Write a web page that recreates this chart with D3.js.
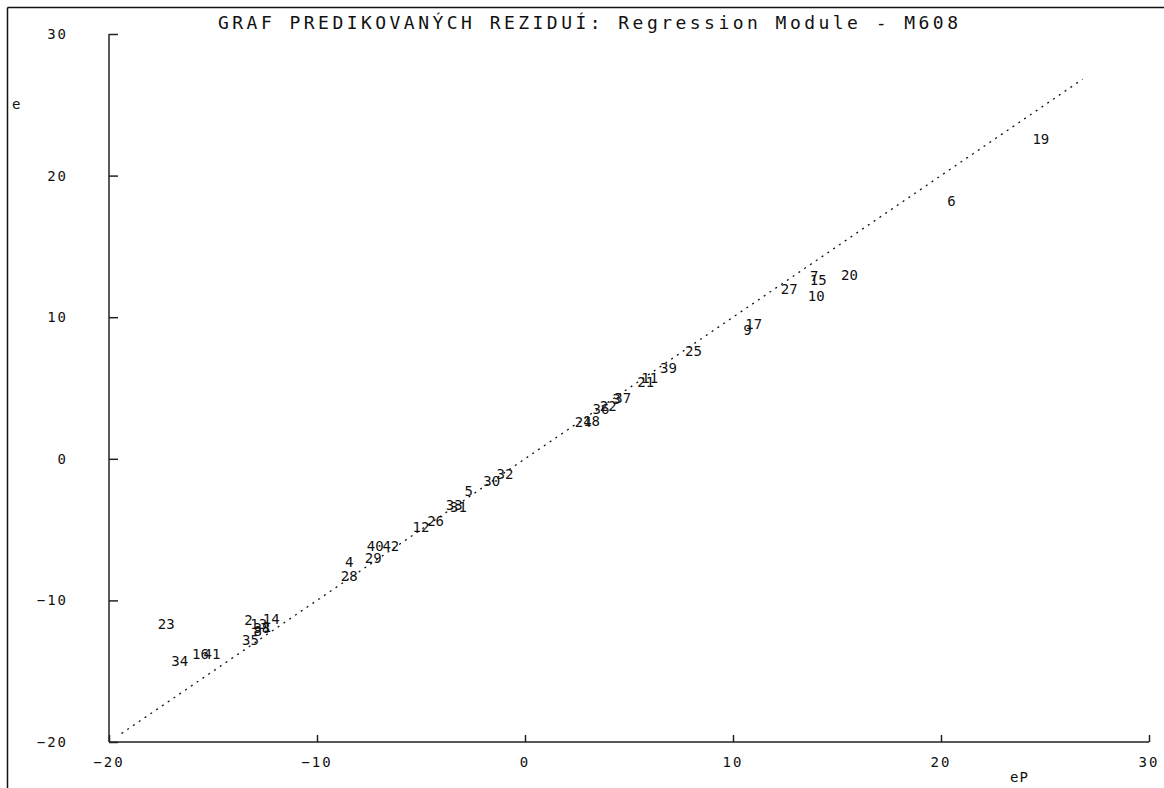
<!DOCTYPE html>
<html>
<head>
<meta charset="utf-8">
<script src="https://cdn.jsdelivr.net/npm/d3@7"></script>
<style>
  html, body { margin: 0; padding: 0; background: #fff; }
  svg text { font-family: "DejaVu Sans Mono", "Liberation Mono", monospace; fill: #111; }
</style>
</head>
<body>
<svg id="chart" width="1164" height="788"></svg>
<script>
// point labels (observation numbers) with predicted residual eP and residual e
const labels = ["19", "6", "20", "15", "7", "10", "27", "17", "9", "25", "39", "11", "21", "3", "37",
    "36", "22", "24", "18", "32", "30", "5", "33", "31", "26", "12", "40", "42", "29", "4", "28",
    "23", "34", "16", "41", "35", "2", "13", "38", "14", "1", "8"];
const ePValues = [24.8, 20.5, 15.6, 14.1, 13.9, 14.0, 12.7, 11.0, 10.7, 8.1, 6.9, 6.0, 5.8, 4.4, 4.7,
    3.65, 4.0, 2.8, 3.2, -0.96, -1.6, -2.7, -3.4, -3.2, -4.3, -5.0, -7.2, -6.45, -7.3, -8.45, -8.45,
    -17.25, -16.6, -15.6, -15.05, -13.2, -13.3, -12.8, -12.65, -12.2, -12.4, -12.85];
const eValues = [22.6, 18.2, 13.0, 12.65, 12.9, 11.5, 12.0, 9.5, 9.1, 7.6, 6.4, 5.7, 5.4, 4.2, 4.3,
    3.5, 3.7, 2.6, 2.7, -1.06, -1.6, -2.3, -3.25, -3.4, -4.4, -4.8, -6.15, -6.15, -7.0, -7.3, -8.3,
    -11.7, -14.3, -13.8, -13.8, -12.8, -11.4, -11.7, -11.95, -11.3, -11.9, -12.15];
// ideal line e = eP
const lineRange = [-19.4, 26.8];
const xTicks = [-20, -10, 0, 10, 20, 30];
const yTicks = [-20, -10, 0, 10, 20, 30];

const data = labels.map((l, i) => ({label: l, x: ePValues[i], y: eValues[i]}));

const width = 1164, height = 788;
const svg = d3.select("#chart");

// outer frame (left and top edges visible)
svg.append("line").attr("x1", 7.5).attr("y1", 7.5).attr("x2", width).attr("y2", 7.5)
    .attr("stroke", "#111").attr("stroke-width", 1.5);
svg.append("line").attr("x1", 7.5).attr("y1", 7.5).attr("x2", 7.5).attr("y2", height)
    .attr("stroke", "#111").attr("stroke-width", 1.5);

const xScale = d3.scaleLinear().domain([-20, 30]).range([109, 1149]);
const yScale = d3.scaleLinear().domain([-20, 30]).range([742, 34]);

// x axis: ticks pointing up
const xAxis = d3.axisTop(xScale).tickValues(xTicks).tickSize(7).tickFormat("");
const gx = svg.append("g").attr("transform", `translate(0, ${yScale(-20)})`).call(xAxis);
gx.select(".domain").attr("d", `M${xScale(-20)},0H${xScale(30)}`);
gx.selectAll("path, line").attr("stroke", "#222").attr("stroke-width", 1.5);

// y axis: ticks pointing right
const yAxis = d3.axisRight(yScale).tickValues(yTicks).tickSize(9).tickFormat("");
const gy = svg.append("g").attr("transform", `translate(${xScale(-20)}, 0)`).call(yAxis);
gy.select(".domain").attr("d", `M0,${yScale(30)}V${yScale(-20)}`);
gy.selectAll("path, line").attr("stroke", "#222").attr("stroke-width", 1.5);

// tick labels
svg.selectAll(".xlab").data(xTicks).enter().append("text")
    .attr("class", "xlab")
    .attr("x", d => xScale(d))
    .attr("y", 767)
    .attr("text-anchor", "middle")
    .attr("font-size", "14px")
    .attr("letter-spacing", "2px")
    .text(d => d3.format("d")(d).replace("-", "\u2212"));

svg.selectAll(".ylab").data(yTicks).enter().append("text")
    .attr("class", "ylab")
    .attr("x", 68)
    .attr("y", d => yScale(d) + 5)
    .attr("text-anchor", "end")
    .attr("font-size", "14px")
    .attr("letter-spacing", "2px")
    .text(d => d3.format("d")(d).replace("-", "\u2212"));

// axis names
svg.append("text").attr("x", 12).attr("y", 109).attr("font-size", "14px").text("e");
svg.append("text").attr("x", 1010).attr("y", 782).attr("font-size", "14px")
    .attr("letter-spacing", "1px").text("eP");

// title
svg.append("text")
    .attr("x", 218)
    .attr("y", 29)
    .attr("font-size", "18px")
    .attr("textLength", 740)
    .attr("lengthAdjust", "spacing")
    .text("GRAF PREDIKOVANÝCH REZIDUÍ: Regression Module - M608");

// dotted reference line
svg.append("line")
    .attr("x1", xScale(lineRange[0])).attr("y1", yScale(lineRange[0]))
    .attr("x2", xScale(lineRange[1])).attr("y2", yScale(lineRange[1]))
    .attr("stroke", "#111")
    .attr("stroke-width", 1.3)
    .attr("stroke-dasharray", "2,5");

// observation numbers as markers
svg.selectAll(".pt").data(data).enter().append("text")
    .attr("class", "pt")
    .attr("x", d => xScale(d.x))
    .attr("y", d => yScale(d.y) + 5)
    .attr("text-anchor", "middle")
    .attr("font-family", "'DejaVu Sans', sans-serif")
    .attr("font-size", "14px")
    .text(d => d.label);
</script>
</body>
</html>
